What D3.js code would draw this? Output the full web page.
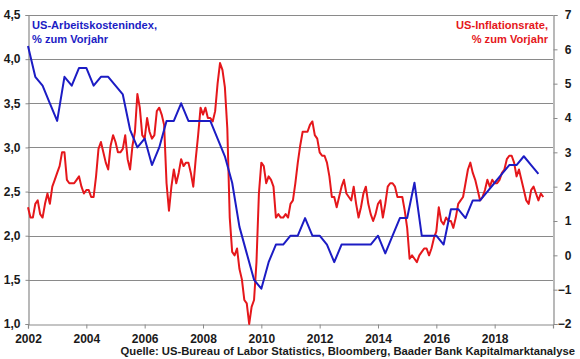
<!DOCTYPE html>
<html>
<head>
<meta charset="utf-8">
<script src="https://cdnjs.cloudflare.com/ajax/libs/d3/7.8.5/d3.min.js"></script>
<style>
  html, body { margin: 0; padding: 0; background: #fff; }
  svg { display: block; font-family: Arial, "Liberation Sans", sans-serif; font-weight: bold; }
</style>
</head>
<body>
<svg id="chart" width="580" height="359"></svg>
<script>
// ---- data ----
// US Employment Cost Index, % y/y, quarterly (first value = Q4 2001, plotted at quarter end)
const eciStart = 2002.0;
const eciValues = [
  4.15, 3.8, 3.7, 3.5, 3.3, 3.8, 3.7, 3.9, 3.9, 3.7, 3.8, 3.8,
  3.7, 3.6, 3.2, 3.0, 3.1, 2.8, 3.0, 3.3, 3.3, 3.5, 3.3, 3.3,
  3.3, 3.3, 3.1, 2.9, 2.6, 2.1, 1.8, 1.5, 1.4, 1.7, 1.9, 1.9,
  2.0, 2.0, 2.2, 2.0, 2.0, 1.9, 1.7, 1.9, 1.9, 1.9, 1.9, 1.9,
  2.0, 1.8, 2.0, 2.2, 2.2, 2.6, 2.0, 2.0, 2.0, 1.9, 2.3, 2.3,
  2.2, 2.4, 2.4, 2.5, 2.6, 2.7, 2.8, 2.8, 2.9, 2.8, 2.7
];
// US CPI inflation, % y/y, monthly (first value = Dec 2001, plotted at month end)
const cpiStart = 2002.0;
const cpiValues = [
  1.4,
  1.1, 1.1, 1.5, 1.6, 1.2, 1.1, 1.5, 1.8, 1.5, 2.0, 2.2, 2.4,   // 2002
  2.6, 3.0, 3.0, 2.2, 2.1, 2.1, 2.1, 2.2, 2.3, 2.0, 1.8, 1.9,   // 2003
  1.9, 1.7, 1.7, 2.3, 3.1, 3.3, 3.0, 2.7, 2.5, 3.2, 3.5, 3.3,   // 2004
  3.0, 3.0, 3.1, 3.5, 2.8, 2.5, 3.2, 3.6, 4.7, 4.3, 3.5, 3.4,   // 2005
  4.0, 3.6, 3.4, 3.5, 4.2, 4.3, 4.1, 3.8, 2.1, 1.3, 2.0, 2.5,   // 2006
  2.1, 2.4, 2.8, 2.6, 2.7, 2.7, 2.4, 2.0, 2.8, 3.5, 4.3, 4.1,   // 2007
  4.3, 4.0, 4.0, 3.9, 4.2, 5.0, 5.6, 5.4, 4.9, 3.7, 1.1, 0.1,   // 2008
  0.0, 0.2, -0.4, -0.7, -1.3, -1.4, -2.0, -1.5, -1.3, -0.2, 1.8, 2.7, // 2009
  2.6, 2.1, 2.3, 2.2, 2.0, 1.1, 1.2, 1.1, 1.1, 1.2, 1.1, 1.5,   // 2010
  1.6, 2.1, 2.7, 3.2, 3.6, 3.6, 3.6, 3.8, 3.9, 3.5, 3.4, 3.0,   // 2011
  2.9, 2.9, 2.7, 2.3, 1.7, 1.7, 1.4, 1.7, 2.0, 2.2, 1.8, 1.7,   // 2012
  1.6, 2.0, 1.5, 1.1, 1.4, 1.8, 2.0, 1.5, 1.2, 1.0, 1.2, 1.5,   // 2013
  1.6, 1.1, 1.5, 2.0, 2.1, 2.1, 2.0, 1.7, 1.7, 1.7, 1.3, 0.8,   // 2014
  -0.1, 0.0, -0.1, -0.2, 0.0, 0.1, 0.2, 0.2, 0.0, 0.2, 0.5, 0.7, // 2015
  1.4, 1.0, 0.9, 1.1, 1.0, 1.0, 0.8, 1.1, 1.5, 1.6, 1.7, 2.1,   // 2016
  2.5, 2.7, 2.4, 2.2, 1.9, 1.6, 1.7, 1.9, 2.2, 2.0, 2.2, 2.1,   // 2017
  2.1, 2.2, 2.4, 2.5, 2.8, 2.9, 2.9, 2.7, 2.3, 2.5, 2.2, 1.9,   // 2018
  1.6, 1.5, 1.9, 2.0, 1.8, 1.6, 1.8, 1.7                        // 2019
];
const leftTicks = [1.0, 1.5, 2.0, 2.5, 3.0, 3.5, 4.0, 4.5];
const rightTicks = [-2, -1, 0, 1, 2, 3, 4, 5, 6, 7];
const yearTicks = [2002, 2004, 2006, 2008, 2010, 2012, 2014, 2016, 2018];
const leftTitle = ["US-Arbeitskostenindex,", "% zum Vorjahr"];
const rightTitle = ["US-Inflationsrate,", "% zum Vorjahr"];
const sourceText = "Quelle: US-Bureau of Labor Statistics, Bloomberg, Baader Bank Kapitalmarktanalyse";

// ---- layout ----
const L = 28, R = 553, T = 15, B = 324;
const svg = d3.select("#chart");
const x = d3.scaleLinear().domain([2002, 2020]).range([L, R]);
const yL = d3.scaleLinear().domain([1.0, 4.5]).range([B, T]);
const yR = d3.scaleLinear().domain([-2, 7]).range([B, T]);

const gridColor = "#8a8a8a";
const textColor = "#1a1a1a";
const blue = "#1c1cc4";
const red = "#e5171b";

// gridlines
svg.append("g").selectAll("line").data(leftTicks.slice(1)).join("line")
  .attr("x1", L).attr("x2", R)
  .attr("y1", d => Math.round(yL(d)) + 0.5).attr("y2", d => Math.round(yL(d)) + 0.5)
  .attr("stroke", gridColor).attr("stroke-width", 1.2);

// left axis
const fmtL = d => d3.format(".1f")(d).replace(".", ",");
const axL = svg.append("g").attr("transform", `translate(${L + 0.5},0)`)
  .call(d3.axisLeft(yL).tickValues(leftTicks).tickFormat(fmtL).tickSize(3).tickPadding(5));
// right axis
const axR = svg.append("g").attr("transform", `translate(${R + 0.5},0)`)
  .call(d3.axisRight(yR).tickValues(rightTicks).tickFormat(d3.format("d")).tickSize(4).tickPadding(14));
// bottom axis
const axB = svg.append("g").attr("transform", `translate(0,${B + 0.5})`)
  .call(d3.axisBottom(x).tickValues(yearTicks).tickFormat(d3.format("d")).tickSize(4).tickPadding(4));

[axL, axR, axB].forEach(g => {
  g.select(".domain").attr("stroke", gridColor).attr("stroke-width", 1.2);
  g.selectAll(".tick line").attr("stroke", gridColor);
  g.selectAll(".tick text").attr("fill", textColor)
    .style("font-size", "12px").style("font-weight", "bold")
    .style("font-family", "Arial, 'Liberation Sans', sans-serif");
});
axR.selectAll(".tick text").attr("text-anchor", "end").attr("x", 18);
axB.selectAll(".tick text").attr("dy", "0.9em");

// lines
const eci = eciValues.map((v, i) => ({ t: eciStart + i * 0.25, v }));
const cpi = cpiValues.map((v, i) => ({ t: cpiStart + i / 12, v }));

svg.append("path").datum(cpi)
  .attr("fill", "none").attr("stroke", red).attr("stroke-width", 2)
  .attr("stroke-linejoin", "round")
  .attr("d", d3.line().x(d => x(d.t)).y(d => yR(d.v)));

svg.append("path").datum(eci)
  .attr("fill", "none").attr("stroke", blue).attr("stroke-width", 2)
  .attr("stroke-linejoin", "round")
  .attr("d", d3.line().x(d => x(d.t)).y(d => yL(d.v)));

// titles
function fitText(sel, target) {
  const w = sel.node().getComputedTextLength();
  const fs = parseFloat(sel.style("font-size"));
  sel.style("font-size", (fs * target / w).toFixed(2) + "px");
}
const lt1 = svg.append("text").attr("x", 32).attr("y", 29).attr("fill", blue)
  .style("font-size", "12px").text(leftTitle[0]);
fitText(lt1, 125);
const lt2 = svg.append("text").attr("x", 32).attr("y", 42.5).attr("fill", blue)
  .style("font-size", lt1.style("font-size")).text(leftTitle[1]);

const rt1 = svg.append("text").attr("x", 548).attr("y", 28.5).attr("fill", red)
  .attr("text-anchor", "end").style("font-size", "12px").text(rightTitle[0]);
fitText(rt1, 92);
const rt2 = svg.append("text").attr("x", 548).attr("y", 43).attr("fill", red)
  .attr("text-anchor", "end").style("font-size", rt1.style("font-size")).text(rightTitle[1]);

// source
const src = svg.append("text").attr("x", 575).attr("y", 355).attr("fill", textColor)
  .attr("text-anchor", "end").style("font-size", "12px").text(sourceText);
fitText(src, 455);
</script>
</body>
</html>
